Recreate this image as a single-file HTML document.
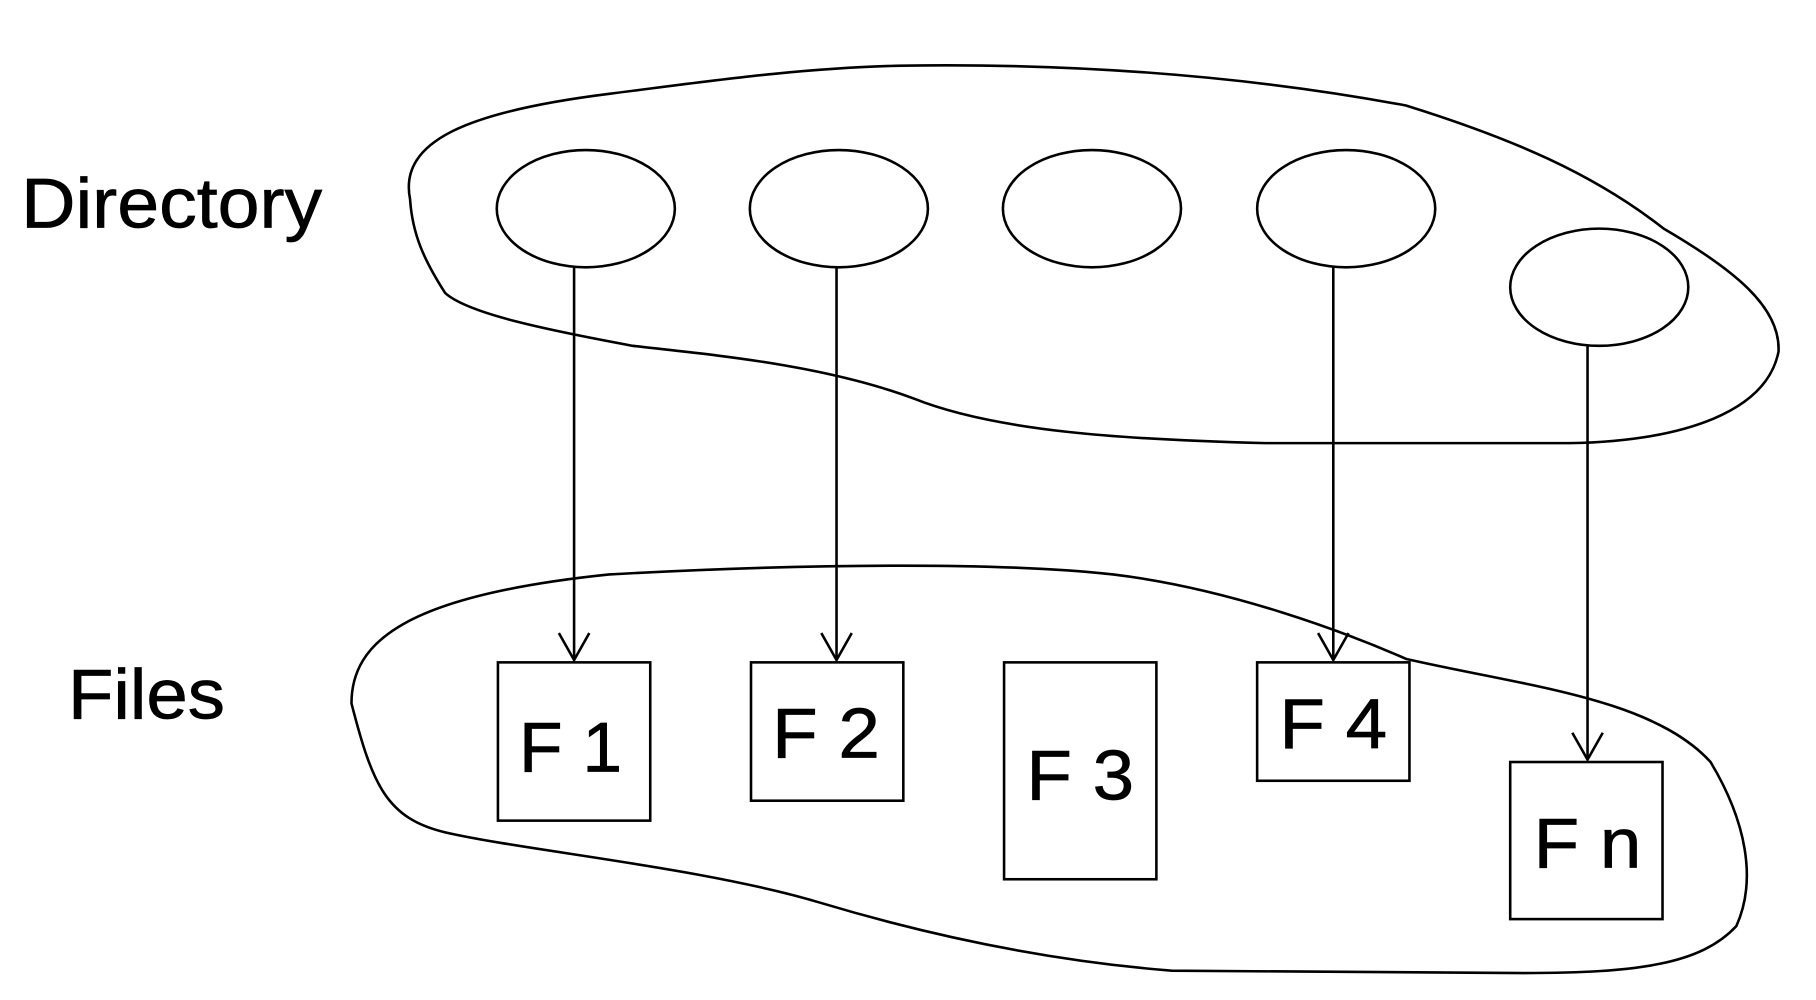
<!DOCTYPE html>
<html><head><style>html,body{margin:0;padding:0;background:#fff}svg{display:block}</style></head>
<body>
<svg width="1816" height="1000" viewBox="0 0 1550 853" preserveAspectRatio="none" xmlns="http://www.w3.org/2000/svg">
<g fill="none" stroke="#000" stroke-width="2.2">
<path d="M350,170 C340,120 400,95 520,80 C600,70 680,58 770,56 C900,54 1050,62 1200,90 C1290,118 1360,148 1420,195 C1480,230 1520,262 1518,300 C1508,350 1440,376 1340,378 L1080,378 C960,375 850,368 780,340 C700,310 600,302 540,295 C470,282 400,268 380,250 C362,222 352,200 350,170 Z"/>
<path d="M300,600 C300,548 345,508 520,490 C700,480 860,480 950,490 C1050,502 1150,540 1200,562 C1300,585 1410,595 1460,650 C1490,700 1500,750 1482,790 C1452,822 1400,830 1300,830 L1000,828 C900,820 800,800 700,770 C600,740 450,726 380,710 C330,698 318,670 300,600 Z"/>
<ellipse cx="500" cy="178" rx="76" ry="50"/>
<ellipse cx="716" cy="178" rx="76" ry="50"/>
<ellipse cx="932" cy="178" rx="76" ry="50"/>
<ellipse cx="1149" cy="178" rx="76" ry="50"/>
<ellipse cx="1365" cy="245" rx="76" ry="50"/>
<rect x="425" y="565" width="130" height="135"/>
<rect x="641" y="565" width="130" height="118"/>
<rect x="857" y="565" width="130" height="185"/>
<rect x="1073" y="565" width="130" height="101"/>
<rect x="1289" y="650" width="130" height="134"/>
<line x1="490" y1="228" x2="490" y2="563"/>
<line x1="714" y1="228" x2="714" y2="563"/>
<line x1="1138" y1="228" x2="1138" y2="563"/>
<line x1="1355" y1="295" x2="1355" y2="648"/>
<polyline points="477,540 490,563 503,540"/>
<polyline points="701,540 714,563 727,540"/>
<polyline points="1125,540 1138,563 1151,540"/>
<polyline points="1342,625 1355,648 1368,625"/>
</g>
<g font-family="Liberation Sans, sans-serif" font-size="60" fill="#000" stroke="#000" stroke-width="0.6">
<text x="18" y="194" textLength="257" lengthAdjust="spacingAndGlyphs">Directory</text>
<text x="58" y="613" textLength="134" lengthAdjust="spacingAndGlyphs">Files</text>
<text x="443" y="658" textLength="88" lengthAdjust="spacingAndGlyphs">F 1</text>
<text x="659" y="646" textLength="92" lengthAdjust="spacingAndGlyphs">F 2</text>
<text x="876" y="682" textLength="92" lengthAdjust="spacingAndGlyphs">F 3</text>
<text x="1092" y="638" textLength="92" lengthAdjust="spacingAndGlyphs">F 4</text>
<text x="1309" y="740" textLength="92" lengthAdjust="spacingAndGlyphs">F n</text>
</g>
</svg>
</body></html>
